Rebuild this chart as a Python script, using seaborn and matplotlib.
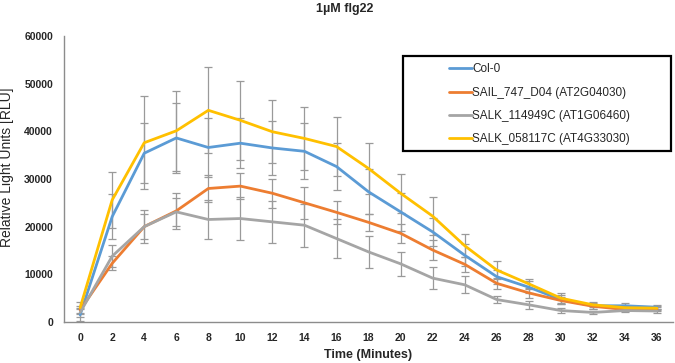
import pandas as pd
import numpy as np
import matplotlib
matplotlib.use("Agg")
import matplotlib.pyplot as plt
import seaborn as sns
from matplotlib.patches import Rectangle

# time points (minutes)
minutes = [0, 2, 4, 6, 8, 10, 12, 14, 16, 18, 20, 22, 24, 26, 28, 30, 32, 34, 36]

line_names = ["Col-0", "SAIL_747_D04 (AT2G04030)",
              "SALK_114949C (AT1G06460)", "SALK_058117C (AT4G33030)"]
line_colors = ["#5B9BD5", "#ED7D31", "#A5A5A5", "#FFC000"]

col0 = [1500, 22100, 35400, 38600, 36600, 37500, 36500, 35800, 32600, 27300,
        23100, 18900, 14000, 9500, 7300, 4700, 3400, 3400, 3100]
col0_err = [1200, 4700, 6300, 7400, 6100, 5300, 5600, 5900, 5000, 4700,
            4000, 3000, 2300, 1500, 1300, 900, 600, 500, 400]

sail = [2500, 12300, 20000, 23300, 28000, 28500, 27000, 25000, 23000, 20900,
        18600, 15100, 12100, 8100, 6100, 4500, 3300, 2600, 2700]
sail_err = [900, 1500, 3500, 3800, 2800, 2800, 3000, 3400, 2400, 1800,
            2000, 2000, 1600, 1200, 1000, 700, 500, 400, 400]

salk_114949 = [2000, 13800, 20000, 23100, 21500, 21700, 21000, 20300, 17500, 14700,
               12200, 9200, 7800, 4700, 3600, 2400, 2000, 2400, 2300]
salk_114949_err = [1000, 2300, 2600, 3000, 4100, 4600, 4400, 4500, 4100, 3300,
                   2500, 2300, 1750, 800, 900, 500, 300, 400, 400]

salk_058117 = [3000, 25600, 37600, 40100, 44400, 42300, 39900, 38500, 36800, 32200,
               27000, 22200, 16000, 10900, 8000, 5000, 3600, 3000, 2900]
salk_058117_err = [1200, 5900, 9800, 8400, 9000, 8300, 6600, 6600, 6200, 5400,
                   4100, 4000, 2400, 1900, 1100, 1000, 500, 500, 400]

y_ticks = [0, 10000, 20000, 30000, 40000, 50000, 60000]

series = [col0, sail, salk_114949, salk_058117]
errors = [col0_err, sail_err, salk_114949_err, salk_058117_err]

frames = []
for name, vals, errs in zip(line_names, series, errors):
    frames.append(pd.DataFrame({"time": minutes, "rlu": vals, "err": errs, "line": name}))
df = pd.concat(frames, ignore_index=True)

sns.set_style("white")
plt.rcParams["font.family"] = ["Liberation Sans", "DejaVu Sans"]

fig = plt.figure(figsize=(6.75, 3.63), dpi=100)
ax = fig.add_axes([0.095, 0.113, 0.902, 0.788])

# error bars first, all grey like the original
for name in line_names:
    sub = df[df["line"] == name]
    ax.errorbar(sub["time"], sub["rlu"], yerr=sub["err"], fmt="none",
                ecolor="#9a9a9a", elinewidth=0.9, capsize=2.8, capthick=0.9, zorder=1)

sns.lineplot(data=df, x="time", y="rlu", hue="line", hue_order=line_names,
             palette=line_colors, linewidth=2.0, ax=ax, legend=False, zorder=3)

ax.set_xlim(-1, 37)
ax.set_ylim(0, 60000)
ax.set_xticks(minutes)
ax.set_yticks(y_ticks)
ax.set_xticklabels([str(m) for m in minutes], fontweight="bold", fontsize=7.5)
ax.set_yticklabels([str(t) for t in y_ticks], fontweight="bold", fontsize=7.5)
ax.tick_params(axis="x", length=0, pad=8)
ax.tick_params(axis="y", length=0, pad=8)

for side in ["top", "right"]:
    ax.spines[side].set_visible(False)
for side in ["left", "bottom"]:
    ax.spines[side].set_color("#8c8c8c")
    ax.spines[side].set_linewidth(1.0)

ax.set_xlabel("Time (Minutes)", fontweight="bold", fontsize=9, labelpad=4)
ax.set_ylabel("Relative Light Units [RLU]", fontsize=10)
ax.yaxis.set_label_coords(-0.082, 0.542)
fig.text(345 / 675, 1 - 9 / 363, "1µM flg22", fontweight="bold", fontsize=9,
         ha="center", va="center")

# legend box with the wide empty margin on the left
box = Rectangle((403 / 675, 1 - 151 / 363), 268 / 675, 95 / 363, transform=fig.transFigure,
                facecolor="white", edgecolor="black", linewidth=1.6, zorder=5)
fig.patches.append(box)
handles = [plt.Line2D([], [], color=c, linewidth=2.0) for c in line_colors]
leg = fig.legend(handles, line_names, loc="upper left",
                 bbox_to_anchor=(440 / 675, 1 - 54 / 363), frameon=False,
                 fontsize=8.5, handlelength=1.9, handletextpad=0.05,
                 labelspacing=0.95, borderpad=0.3)
leg.set_zorder(6)

fig.savefig("out.png", dpi=100)
